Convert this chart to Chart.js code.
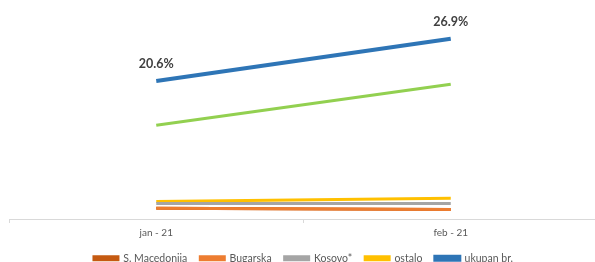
<!DOCTYPE html>
<html>
<head>
<meta charset="utf-8">
<script src="https://cdn.jsdelivr.net/npm/chart.js@4.4.1/dist/chart.umd.min.js"></script>
<style>
  html, body { margin: 0; padding: 0; background: #fff; overflow: hidden; }
  #wrap { position: relative; width: 598px; height: 262px; }
</style>
</head>
<body>
<div id="wrap"><canvas id="chart"></canvas></div>
<script>
// ------------------------
// DATA
// ------------------------
const months = ['jan - 21', 'feb - 21'];
const seriesNames = ['S. Macedonija', 'Bugarska', 'Kosovo*', 'ostalo', '', 'ukupan br.'];
const seriesColors = ['#C55A11', '#ED7D31', '#A5A5A5', '#FFC000', '#92D050', '#2E75B6'];
const macedonija = [1.6, 1.4];
const bugarska = [1.6, 1.4];
const kosovo = [2.3, 2.3];
const ostalo = [2.6, 3.1];
const zelena = [14.0, 20.1];
const ukupno = [20.6, 26.9];
const ukupnoLabels = ['20.6%', '26.9%'];

const seriesValues = [macedonija, bugarska, kosovo, ostalo, zelena, ukupno];

const datasets = seriesNames.map((name, i) => ({
  label: name,
  data: seriesValues[i],
  borderColor: seriesColors[i],
  backgroundColor: seriesColors[i],
  borderWidth: i === 5 ? 4 : 3,
  pointRadius: 0,
  tension: 0,
  order: i === 0 ? 1 : 0
}));

// labels above the blue line
const valueLabels = {
  id: 'valueLabels',
  afterDatasetsDraw(chart) {
    const ctx = chart.ctx;
    const meta = chart.getDatasetMeta(5);
    ctx.save();
    ctx.font = 'bold 12.5px Lato, "Open Sans", sans-serif';
    ctx.fillStyle = '#404040';
    ctx.textAlign = 'center';
    ctx.textBaseline = 'middle';
    meta.data.forEach((pt, i) => {
      ctx.fillText(ukupnoLabels[i], pt.x, pt.y - 17);
    });
    ctx.restore();
  }
};

// make the legend box shorter, then draw its row without the box clip
const legendTweak = {
  id: 'legendTweak',
  afterInit(chart) {
    const lg = chart.legend;
    const fit = lg.fit.bind(lg);
    lg.fit = function () { fit(); this.height = 19; };
    const draw = lg.draw.bind(lg);
    lg.draw = function () {
      const c = this.ctx;
      const top = this.top, bottom = this.bottom;
      this.top = top - 40;
      this.bottom = bottom + 40;
      c.save();
      c.translate(0, 37);
      draw();
      c.restore();
      this.top = top;
      this.bottom = bottom;
    };
  }
};

new Chart(document.getElementById('chart'), {
  type: 'line',
  data: { labels: months, datasets: datasets },
  plugins: [valueLabels, legendTweak],
  options: {
    responsive: true,
    maintainAspectRatio: false,
    animation: false,
    layout: { padding: { left: 9, right: 0, top: 18, bottom: 0 } },
    scales: {
      x: {
        offset: true,
        grid: { offset: true, drawOnChartArea: false, tickLength: 4, color: '#D9D9D9' },
        border: { color: '#D9D9D9' },
        ticks: { color: '#595959', font: { family: 'Lato', size: 10 }, padding: 4 }
      },
      y: { display: false, min: 0, max: 30 }
    },
    plugins: {
      tooltip: { enabled: false },
      legend: {
        position: 'bottom',
        labels: {
          boxWidth: 24,
          boxHeight: 3,
          padding: 13,
          color: '#595959',
          font: { family: 'Lato', size: 10.5 },
          filter: item => item.text !== '',
          sort: (a, b) => a.datasetIndex - b.datasetIndex
        }
      }
    }
  }
});
</script>
</body>
</html>
